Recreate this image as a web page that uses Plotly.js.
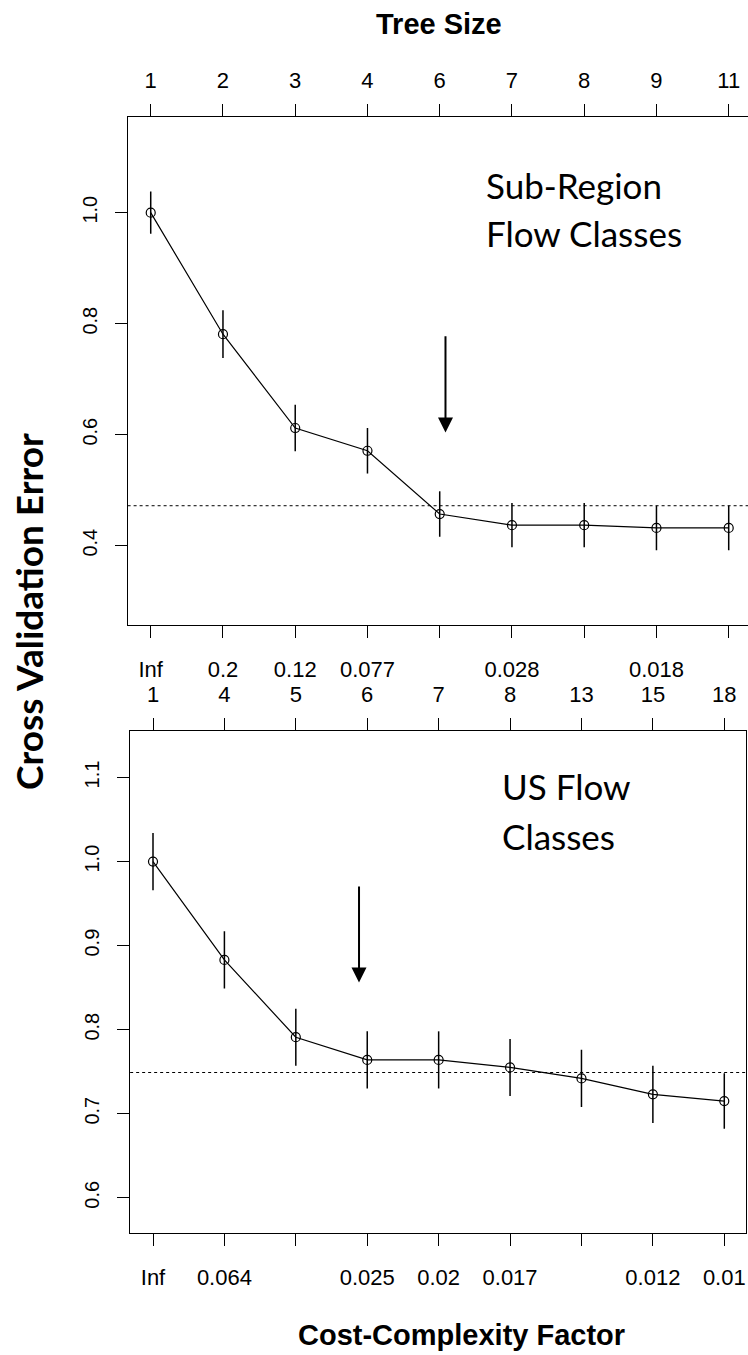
<!DOCTYPE html>
<html>
<head>
<meta charset="utf-8">
<script src="https://cdn.plot.ly/plotly-3.0.1.min.js"></script>
<style>
  html, body { margin: 0; padding: 0; background: #fff; }
  #chart { width: 748px; height: 1355px; }
</style>
</head>
<body>
<div id="chart"></div>
<script>
// Sub-region model: cross-validated relative error per pruning step
const subSteps = [1, 2, 3, 4, 5, 6, 7, 8, 9];
const subTreeSize = ["1", "2", "3", "4", "6", "7", "8", "9", "11"];
const subCp = ["Inf", "0.2", "0.12", "0.077", "", "0.028", "", "0.018", ""];
const subXerror = [1.000, 0.781, 0.612, 0.571, 0.457, 0.437, 0.437, 0.432, 0.432];
const subXstd = [0.038, 0.043, 0.042, 0.041, 0.041, 0.040, 0.040, 0.040, 0.040];
const subOneSE = [0.472];
const subYTicks = [0.4, 0.6, 0.8, 1.0];
const subYLabels = ["0.4", "0.6", "0.8", "1.0"];
const subPick = [5.08, 0.78, 0.604];   // chosen step: x, arrow tail, arrow tip

// US model
const usSteps = [1, 2, 3, 4, 5, 6, 7, 8, 9];
const usTreeSize = ["1", "4", "5", "6", "7", "8", "13", "15", "18"];
const usCp = ["Inf", "0.064", "", "0.025", "0.02", "0.017", "", "0.012", "0.01"];
const usXerror = [1.000, 0.883, 0.791, 0.764, 0.764, 0.755, 0.742, 0.723, 0.715];
const usXstd = [0.034, 0.034, 0.034, 0.034, 0.034, 0.034, 0.034, 0.034, 0.033];
const usOneSE = [0.749];
const usYTicks = [0.6, 0.7, 0.8, 0.9, 1.0, 1.1];
const usYLabels = ["0.6", "0.7", "0.8", "0.9", "1.0", "1.1"];
const usPick = [3.885, 0.972, 0.856];

const W = 748, H = 1355;
const fx = p => p / W;
const fy = p => 1 - p / H;

const xTickFont = { family: "Liberation Sans, Arial, sans-serif", size: 22, color: "#000" };
const yTickFont = { family: "Liberation Sans, Arial, sans-serif", size: 20, color: "#000" };

function cpTrace(xs, ys, sd, xa, ya) {
  return {
    x: xs, y: ys, xaxis: xa, yaxis: ya,
    type: "scatter", mode: "lines+markers",
    line: { color: "#000", width: 1.2 },
    marker: { symbol: "circle-open", size: 9, color: "#000", line: { width: 1.2 } },
    error_y: { type: "data", array: sd, visible: true, width: 0, thickness: 1.5, color: "#000" },
    hoverinfo: "skip", showlegend: false
  };
}
function ghost(xs, ys, xa, ya) {
  return { x: xs, y: ys, xaxis: xa, yaxis: ya, type: "scatter", mode: "markers",
           marker: { opacity: 0 }, hoverinfo: "skip", showlegend: false };
}

const baseX = {
  tickmode: "array", ticks: "outside", ticklen: 12, tickwidth: 1, tickcolor: "#000",
  showline: true, linecolor: "#000", linewidth: 1, showgrid: false, zeroline: false,
  tickfont: xTickFont, fixedrange: true
};
const baseY = Object.assign({}, baseX, { tickangle: -90, tickfont: yTickFont });

const traces = [
  cpTrace(subSteps, subXerror, subXstd, "x", "y"),
  ghost(subSteps, subXerror, "x2", "y"),
  cpTrace(usSteps, usXerror, usXstd, "x3", "y2"),
  ghost(usSteps, usXerror, "x4", "y2")
];

const layout = {
  width: W, height: H,
  margin: { l: 0, r: 0, t: 0, b: 0 },
  paper_bgcolor: "#fff", plot_bgcolor: "#fff",
  showlegend: false,
  xaxis: Object.assign({}, baseX, {
    domain: [fx(127.6), 1], range: [0.68, 9.267], anchor: "y", side: "bottom",
    tickvals: subSteps, ticktext: subCp, ticklabelstandoff: 13
  }),
  xaxis2: Object.assign({}, baseX, {
    domain: [fx(127.6), 1], range: [0.68, 9.267], anchor: "y", side: "top", overlaying: "x",
    tickvals: subSteps, ticktext: subTreeSize, ticklabelstandoff: 7
  }),
  yaxis: Object.assign({}, baseY, {
    domain: [fy(624.5), fy(117.2)], range: [0.258, 1.172], anchor: "x",
    tickvals: subYTicks, ticktext: subYLabels, ticklabelstandoff: 10
  }),
  xaxis3: Object.assign({}, baseX, {
    domain: [fx(130.15), fx(745.5)], range: [0.68, 9.297], anchor: "y2", side: "bottom",
    tickvals: usSteps, ticktext: usCp, ticklabelstandoff: 13
  }),
  xaxis4: Object.assign({}, baseX, {
    domain: [fx(130.15), fx(745.5)], range: [0.68, 9.297], anchor: "y2", side: "top", overlaying: "x3",
    tickvals: usSteps, ticktext: usTreeSize, ticklabelstandoff: 7
  }),
  yaxis2: Object.assign({}, baseY, {
    domain: [fy(1233), fy(730.5)], range: [0.558, 1.156], anchor: "x3", mirror: true,
    tickvals: usYTicks, ticktext: usYLabels, ticklabelstandoff: 10
  }),
  shapes: [
    { type: "line", xref: "x domain", yref: "y", x0: 0, x1: 1, y0: subOneSE[0], y1: subOneSE[0],
      line: { color: "#000", width: 1, dash: "dot" } },
    { type: "line", xref: "x3 domain", yref: "y2", x0: 0, x1: 1, y0: usOneSE[0], y1: usOneSE[0],
      line: { color: "#000", width: 1, dash: "dot" } }
  ],
  annotations: [
    { xref: "x", yref: "y", axref: "x", ayref: "y", x: subPick[0], y: subPick[2], ax: subPick[0], ay: subPick[1],
      text: "", showarrow: true, arrowhead: 2, arrowsize: 1.5, arrowwidth: 2, arrowcolor: "#000", standoff: 0 },
    { xref: "x3", yref: "y2", axref: "x3", ayref: "y2", x: usPick[0], y: usPick[2], ax: usPick[0], ay: usPick[1],
      text: "", showarrow: true, arrowhead: 2, arrowsize: 1.5, arrowwidth: 2, arrowcolor: "#000", standoff: 0 },

    { xref: "paper", yref: "paper", x: fx(484), y: fy(185), xanchor: "left", yanchor: "middle",
      text: "Sub-Region", showarrow: false, font: { family: "Lato, sans-serif", size: 35, color: "#000" } },
    { xref: "paper", yref: "paper", x: fx(484), y: fy(233), xanchor: "left", yanchor: "middle",
      text: "Flow Classes", showarrow: false, font: { family: "Lato, sans-serif", size: 35, color: "#000" } },
    { xref: "paper", yref: "paper", x: fx(500), y: fy(786), xanchor: "left", yanchor: "middle",
      text: "US Flow", showarrow: false, font: { family: "Lato, sans-serif", size: 35, color: "#000" } },
    { xref: "paper", yref: "paper", x: fx(500), y: fy(836), xanchor: "left", yanchor: "middle",
      text: "Classes", showarrow: false, font: { family: "Lato, sans-serif", size: 35, color: "#000" } },

    { xref: "paper", yref: "paper", x: fx(439), y: fy(24), xanchor: "center", yanchor: "middle",
      text: "<b>Tree Size</b>", showarrow: false,
      font: { family: "Liberation Sans, Arial, sans-serif", size: 29, color: "#000" } },
    { xref: "paper", yref: "paper", x: fx(461), y: fy(1335), xanchor: "center", yanchor: "middle",
      text: "<b>Cost-Complexity Factor</b>", showarrow: false,
      font: { family: "Liberation Sans, Arial, sans-serif", size: 29, color: "#000" } },
    { xref: "paper", yref: "paper", x: fx(28), y: fy(612), xanchor: "center", yanchor: "middle",
      text: "<b>Cross Validation Error</b>", showarrow: false, textangle: -90,
      font: { family: "Lato, sans-serif", size: 37, color: "#000" } }
  ]
};

Plotly.newPlot("chart", traces, layout, { staticPlot: true, displayModeBar: false });
</script>
</body>
</html>
